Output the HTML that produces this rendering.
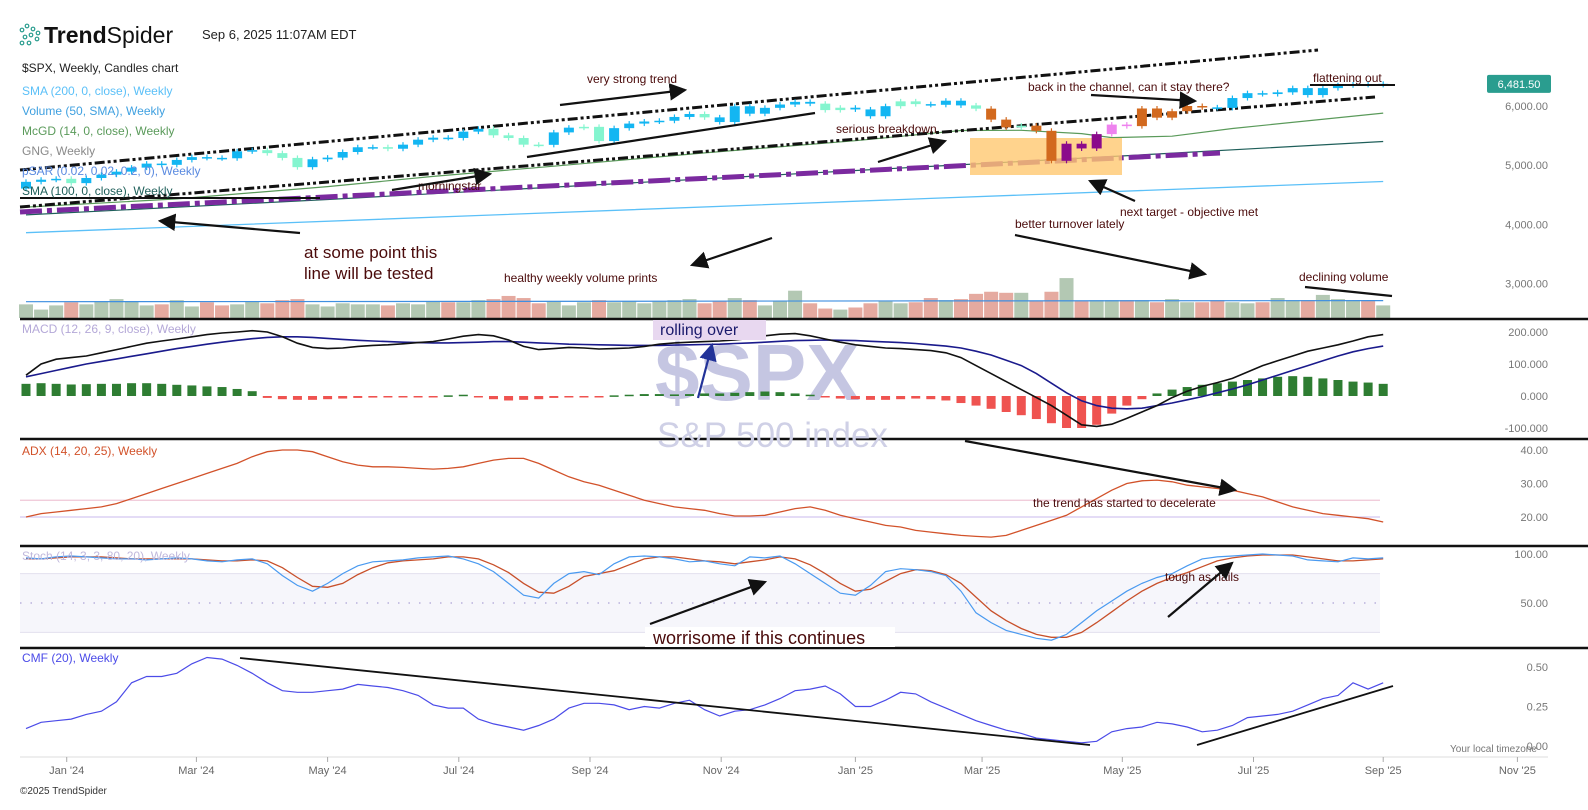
<!DOCTYPE html>
<html><head><meta charset="utf-8"><style>
html,body{margin:0;padding:0;background:#fff;}
body{width:1588px;height:810px;overflow:hidden;position:relative;font-family:"Liberation Sans",sans-serif;}
svg{position:absolute;left:0;top:0;}
</style></head><body>
<svg id="chart" width="1588" height="810" viewBox="0 0 1588 810" xmlns="http://www.w3.org/2000/svg" font-family="Liberation Sans, sans-serif"></svg>
<script>
// ---------- DATA ----------
const closes=[4719,4755,4770,4697,4784,4840,4891,4959,5027,5006,5089,5137,5124,5117,5234,5254,5204,5123,4967,5100,5128,5223,5303,5305,5278,5347,5431,5465,5460,5567,5615,5505,5459,5347,5344,5554,5634,5648,5408,5626,5703,5738,5751,5815,5865,5808,5729,5996,5870,5969,6032,6090,6051,5931,5971,5942,5827,5997,6101,6041,6026,6115,6013,5955,5770,5639,5668,5581,5074,5363,5283,5525,5686,5660,5958,5803,5912,6000,5977,5968,6173,6279,6260,6297,6389,6238,6389,6450,6467,6460,6482];
const firstOpen=4605;
const regime="bbbmbbbbbbbbbbbbmmmbbbbbmbbbbbbmmmmbbmmbbbbbbmbbbbbbbmmbbbmmbbbmoomoopppvvooooobbbbbbbbbbbbb";
const volumes=[13,8,12,15,13,16,18,16,12,13,17,11,15,12,13,16,14,17,18,13,11,14,13,13,12,14,13,16,15,15,17,18,21,19,14,16,12,15,17,15,16,14,16,17,18,14,16,19,17,12,16,26,14,9,8,10,14,16,14,15,19,17,18,23,25,24,24,16,25,38,16,17,17,17,17,15,18,15,15,17,15,14,15,19,17,17,22,18,17,17,12];
const volSmaIdx=[0,30,60,90];
const volSmaVals=[15.5,15.8,16.3,16.6];
const sma200Idx=[0,30,60,90];
const sma200Vals=[3860,4150,4440,4725];
const sma100Idx=[0,20,40,60,75,90];
const sma100Vals=[4160,4420,4700,4980,5190,5400];
const mcgdIdx=[0,10,20,27,35,45,55,62,66,70,72,76,80,90];
const mcgdVals=[4293,4430,4638,4810,4983,5207,5414,5586,5590,5534,5466,5490,5620,5880];
const macd=[65,100,115,120,125,135,145,155,165,172,178,185,192,197,200,204,200,185,165,152,148,150,155,158,160,163,167,170,178,187,192,188,175,155,145,148,152,150,147,148,150,155,162,166,168,170,172,175,180,188,193,195,188,178,168,160,155,150,148,145,142,135,120,95,70,45,20,-5,-30,-60,-90,-95,-88,-70,-50,-30,-5,15,30,42,55,75,95,110,125,140,150,160,172,185,192];
const signal=[60,70,80,90,100,108,116,124,132,140,148,155,162,168,174,179,183,185,185,183,180,177,174,172,170,168,167,166,166,167,168,170,170,168,166,164,162,161,160,159,158,158,158,159,160,161,162,164,166,168,171,173,174,175,174,173,171,169,167,164,160,156,150,140,128,112,95,70,40,10,-15,-30,-38,-40,-38,-30,-22,-12,-2,10,22,35,50,65,80,95,110,125,138,148,156];
const hist=[38,40,38,36,37,38,38,40,40,38,35,33,30,28,22,15,-6,-10,-12,-12,-10,-8,-6,-5,-4,-4,-3,-2,2,4,-4,-10,-14,-12,-10,-6,-4,-2,-2,2,4,6,6,5,6,8,8,10,12,14,12,8,4,-4,-8,-10,-12,-12,-10,-8,-10,-14,-22,-30,-40,-50,-60,-72,-85,-100,-100,-90,-55,-30,-10,8,20,28,35,40,45,50,55,60,62,60,55,50,45,42,38];
const adx=[20,21,21.5,22,22.5,23,24,25.5,27,28.5,30,31.5,33,34.5,36,38,39.5,40,40,39.5,38,36.5,35.5,35,35,34.8,34.5,34.3,34.5,35,36,37,37.5,37.5,36,34,32,30.5,29.5,28,26.5,25,24,23,22.5,22,21,20.3,20.3,20.5,21.5,22.5,23,22,20.5,19.5,18.5,17.5,17,16,15.5,15,14.5,14.2,14,14.5,16,17.5,19,20.5,23,25.5,28,30,30.8,31,30.5,29.5,29,28.5,28,27,26,24.5,23,22,21,20.5,20,19.5,18.5];
const stochK=[96,95,97,98,97,96,95,95,94,95,96,95,93,92,94,95,90,78,68,62,70,80,88,92,93,94,96,97,98,95,90,82,70,58,55,70,80,82,79,90,97,98,97,95,92,93,90,88,97,96,98,90,80,70,60,58,68,82,85,84,82,78,62,40,30,22,18,14,12,18,30,42,52,62,70,76,80,88,95,97,98,99,100,99,98,94,93,92,96,95,96];
const stochD=[95,95,96,97,97,97,96,95,95,95,95,95,94,93,93,94,93,86,76,67,66,70,79,86,91,93,94,95,97,97,95,89,81,70,61,60,67,77,80,83,89,95,97,97,95,93,92,90,92,94,97,95,89,80,70,62,64,72,80,84,83,79,70,56,42,32,24,18,15,15,20,30,41,52,62,70,76,81,87,93,96,98,99,99,99,97,95,93,93,94,95];
const cmf=[0.11,0.15,0.16,0.17,0.20,0.22,0.28,0.40,0.44,0.44,0.46,0.52,0.56,0.55,0.51,0.46,0.40,0.35,0.34,0.34,0.35,0.36,0.39,0.38,0.37,0.35,0.32,0.26,0.24,0.24,0.17,0.14,0.12,0.10,0.13,0.17,0.24,0.27,0.27,0.26,0.23,0.25,0.24,0.27,0.29,0.23,0.19,0.22,0.23,0.26,0.30,0.35,0.36,0.38,0.33,0.25,0.25,0.29,0.34,0.33,0.28,0.24,0.20,0.16,0.13,0.10,0.08,0.05,0.04,0.03,0.02,0.03,0.09,0.11,0.12,0.15,0.14,0.12,0.09,0.10,0.13,0.18,0.19,0.20,0.22,0.26,0.30,0.32,0.40,0.36,0.40];
const xLabels=["Jan '24","Mar '24","May '24","Jul '24","Sep '24","Nov '24","Jan '25","Mar '25","May '25","Jul '25","Sep '25","Nov '25"];
const xLabelWeeks=[2.7,11.3,20,28.7,37.4,46.1,55,63.4,72.7,81.4,90,98.9];
const priceTicks=[6000,5000,4000,3000];
const macdTicks=[200,100,0,-100];
const adxTicks=[40,30,20];
const stochTicks=[100,50];
const cmfTicks=[0.5,0.25,0];
const lastPrice=6481.50;

// ---------- AXES ----------
const X=i=>26+i*15.08;
const yP=p=>p>=6000?106-(p-6000)*0.046:106+(6000-p)*0.0592;
const yV=v=>318-v*1.05;
const yM=v=>396-v*0.32;
const yA=v=>517-(v-20)*3.35;
const yS=v=>652-v*0.98;
const yC=v=>746-v*158;

const svg=document.getElementById('chart');
const NS='http://www.w3.org/2000/svg';
function mk(tag,attrs,parent){const e=document.createElementNS(NS,tag);for(const k in attrs)e.setAttribute(k,attrs[k]);(parent||svg).appendChild(e);return e;}
function txt(s,x,y,attrs){const e=mk('text',Object.assign({x:x,y:y},attrs));e.textContent=s;return e;}
function poly(pts){return pts.map(p=>p[0].toFixed(1)+','+p[1].toFixed(1)).join(' ');}
let el;

// ---------- header ----------
const g0=mk('g',{});


[[22,30],[27,26],[33,29],[25,37],[31,35],[37,39],[22,43],[29,43],[38,33]].forEach(p=>{mk('circle',{cx:p[0],cy:p[1],r:1.8,fill:'none',stroke:'#2a9d8f','stroke-width':1.2},g0);});
el=txt('',44,43,{'font-size':23,fill:'#111'});
el.innerHTML='<tspan font-weight="bold">Trend</tspan><tspan>Spider</tspan>';


el=txt('Sep 6, 2025 11:07AM EDT',202,39,{'font-size':13,fill:'#222'});


el=txt('$SPX, Weekly, Candles chart',22,72,{'font-size':12,fill:'#222'});



// ---------- price panel lines ----------
el=mk('polyline',{points:poly(sma200Idx.map((v,k)=>[X(v),yP(sma200Vals[k])])),fill:'none',stroke:'#5bc0f8','stroke-width':1.3});


el=mk('polyline',{points:poly(sma100Idx.map((v,k)=>[X(v),yP(sma100Vals[k])])),fill:'none',stroke:'#1f5f5a','stroke-width':1.2});


el=mk('polyline',{points:poly(mcgdIdx.map((v,k)=>[X(v),yP(mcgdVals[k])])),fill:'none',stroke:'#5a9a5a','stroke-width':1.2});



el=mk('line',{x1:20,y1:212,x2:1220,y2:153,stroke:'#7b2a9f','stroke-width':5,'stroke-dasharray':'22,5,5,5'});


el=mk('line',{x1:20,y1:170,x2:1318,y2:50,stroke:'#111','stroke-width':3,'stroke-dasharray':'10,3,3,3,3,3'});


el=mk('line',{x1:20,y1:207,x2:1375,y2:97,stroke:'#111','stroke-width':3,'stroke-dasharray':'10,3,3,3,3,3'});


el=mk('line',{x1:20,y1:198,x2:320,y2:198,stroke:'#111','stroke-width':2});


el=mk('rect',{x:970,y:138,width:152,height:37,fill:'#ffc870',opacity:0.8});



// ---------- candles ----------
const colMap={b:'#13b6f2',m:'#84f5cf',o:'#d2691e',p:'#8b0a8b',v:'#ee82ee'};
for(let i=0;i<closes.length;i++){
  const o=i===0?firstOpen:closes[i-1], c=closes[i];
  const col=colMap[regime[i]]||'#13b6f2';
  const top=yP(Math.max(o,c)), bot=yP(Math.min(o,c));
  el=mk('line',{x1:X(i),x2:X(i),y1:top-2.5,y2:bot+2.5,stroke:col,'stroke-width':1.2});
  
  
  el=mk('rect',{x:X(i)-5,y:top,width:10,height:Math.max(1.5,bot-top),fill:col});
  
  
}

[['SMA (200, 0, close), Weekly','#5bc0f8',95],['Volume (50, SMA), Weekly','#3fa0e0',115],['McGD (14, 0, close), Weekly','#5a9a5a',135],['GNG, Weekly','#8a8a8a',155],['pSAR (0.02, 0.02, 0.2, 0), Weekly','#5a8ae0',175],['SMA (100, 0, close), Weekly','#1f5f5a',195]].forEach(a=>{
  const t=txt(a[0],22,a[2],{'font-size':12,fill:a[1]});
  
  
});

// ---------- volume ----------
for(let i=0;i<volumes.length;i++){
  const o=i===0?firstOpen:closes[i-1];
  el=mk('rect',{x:X(i)-7,y:yV(volumes[i]),width:14,height:318-yV(volumes[i]),fill:closes[i]<o?'#e5aaa0':'#b3c8b3'});
  
  
}
el=mk('polyline',{points:poly(volSmaIdx.map((v,k)=>[X(v),yV(volSmaVals[k])])),fill:'none',stroke:'#3f8fe0','stroke-width':1.2});



[319,439,546,648].forEach(y=>{
  const d=mk('line',{x1:20,x2:1588,y1:y,y2:y,stroke:'#111','stroke-width':2.5});
  
  
});

// ---------- MACD ----------
el=txt('$SPX',655,400,{'font-size':80,'font-weight':'bold',fill:'#c5c6e2'});


el=txt('S&P 500 index',657,447,{'font-size':35,fill:'#cfd0e6'});


for(let i=0;i<hist.length;i++){
  const y=yM(hist[i]);
  el=mk('rect',{x:X(i)-4.5,y:Math.min(y,396),width:9,height:Math.max(1.5,Math.abs(y-396)),fill:hist[i]>=0?'#2e7d32':'#ef5350'});
  
  
}
el=mk('polyline',{points:poly(signal.map((v,i)=>[X(i),yM(v)])),fill:'none',stroke:'#1a1a8c','stroke-width':1.6});


el=mk('polyline',{points:poly(macd.map((v,i)=>[X(i),yM(v)])),fill:'none',stroke:'#111','stroke-width':1.6});


el=txt('MACD (12, 26, 9, close), Weekly',22,333,{'font-size':12,fill:'#b4a8d8'});



// ---------- ADX ----------
el=mk('line',{x1:20,x2:1380,y1:yA(25),y2:yA(25),stroke:'#efc6d6','stroke-width':1.2});


el=mk('line',{x1:20,x2:1380,y1:yA(20),y2:yA(20),stroke:'#d4c8f0','stroke-width':1.2});


el=mk('polyline',{points:poly(adx.map((v,i)=>[X(i),yA(v)])),fill:'none',stroke:'#d2522a','stroke-width':1.3});


el=txt('ADX (14, 20, 25), Weekly',22,455,{'font-size':12,fill:'#d2522a'});



// ---------- Stoch ----------
el=mk('rect',{x:20,y:yS(80),width:1360,height:yS(20)-yS(80),fill:'#f6f6fb'});


el=mk('line',{x1:20,x2:1380,y1:yS(80),y2:yS(80),stroke:'#e2e0ee','stroke-width':1});


el=mk('line',{x1:20,x2:1380,y1:yS(20),y2:yS(20),stroke:'#e2e0ee','stroke-width':1});


el=mk('line',{x1:20,x2:1380,y1:yS(50),y2:yS(50),stroke:'#b8b0dc','stroke-width':1.5,'stroke-dasharray':'1.5,9'});


el=mk('polyline',{points:poly(stochD.map((v,i)=>[X(i),yS(v)])),fill:'none',stroke:'#c8502a','stroke-width':1.3});


el=mk('polyline',{points:poly(stochK.map((v,i)=>[X(i),yS(v)])),fill:'none',stroke:'#4a9af0','stroke-width':1.2});


el=txt('Stoch (14, 3, 3, 80, 20), Weekly',22,560,{'font-size':12,fill:'#c0b8dc'});



// ---------- CMF ----------
el=mk('polyline',{points:poly(cmf.map((v,i)=>[X(i),yC(v)])),fill:'none',stroke:'#4b4be8','stroke-width':1.2});


el=txt('CMF (20), Weekly',22,662,{'font-size':12,fill:'#4b4be8'});


el=mk('line',{x1:240,y1:658,x2:1090,y2:745,stroke:'#111','stroke-width':1.8});


el=mk('line',{x1:1197,y1:745,x2:1393,y2:686,stroke:'#111','stroke-width':1.8});



// ---------- right axis ----------
function rlab(s,y,name){const t=txt(s,1548,y+4,{'font-size':11,fill:'#777','text-anchor':'end'});}
priceTicks.forEach(p=>rlab(p.toLocaleString('en-US',{minimumFractionDigits:2}),yP(p),'price-tick-label'));
macdTicks.forEach(v=>rlab(v.toFixed(3),yM(v),'macd-tick-label'));
adxTicks.forEach(v=>rlab(v.toFixed(2),yA(v),'adx-tick-label'));
stochTicks.forEach(v=>rlab(v.toFixed(2),yS(v),'stoch-tick-label'));
cmfTicks.forEach(v=>rlab(v.toFixed(2),yC(v),'cmf-tick-label'));
el=mk('rect',{x:1487,y:yP(lastPrice)-9,width:64,height:18,rx:2,fill:'#2a9d8f'});


el=txt(lastPrice.toLocaleString('en-US',{minimumFractionDigits:2}),1519,yP(lastPrice)+4,{'font-size':11,fill:'#fff','text-anchor':'middle'});


el=txt('Your local timezone',1450,752,{'font-size':10,fill:'#777'});



// ---------- x axis ----------
el=mk('line',{x1:20,x2:1548,y1:757,y2:757,stroke:'#ddd','stroke-width':1});


xLabels.forEach((s,k)=>{
  const tk=mk('line',{x1:X(xLabelWeeks[k]),x2:X(xLabelWeeks[k]),y1:757,y2:762,stroke:'#aaa'});
  
  
  const t=txt(s,X(xLabelWeeks[k]),774,{'font-size':11,fill:'#666','text-anchor':'middle'});
  
  
});
el=txt('©2025 TrendSpider',20,794,{'font-size':10,fill:'#333'});



// ---------- annotations ----------
const defs=mk('defs',{});
['#111','#223399'].forEach((c,k)=>{const m=mk('marker',{id:'ah'+k,markerWidth:8,markerHeight:8,refX:7,refY:4,orient:'auto',markerUnits:'strokeWidth'},defs);mk('path',{d:'M0,0 L8,4 L0,8 Z',fill:c},m);});
function arrow(x1,y1,x2,y2,name,col,head){
  const a=mk('line',{x1:x1,y1:y1,x2:x2,y2:y2,stroke:col||'#111','stroke-width':2.2});
  if(head!==false)a.setAttribute('marker-end','url(#ah'+(col?1:0)+')');
  
  
}
function note(s,x,y,size,name){const t=txt(s,x,y,{'font-size':size||12,fill:'#4a0a0a'});return t;}
note('very strong trend',587,83,12,'note-very-strong-trend');
arrow(560,105,685,90,'arrow-very-strong-trend');
note('morningstar',418,190,12,'note-morningstar');
arrow(392,190,490,174,'arrow-morningstar');
arrow(527,157,815,113,'line-trend-segment',null,false);
note('at some point this',304,258,17,'note-line-tested-1');
note('line will be tested',304,279,17,'note-line-tested-2');
arrow(300,233,160,221,'arrow-line-tested');
note('healthy weekly volume prints',504,282,12,'note-healthy-volume');
arrow(772,238,692,265,'arrow-healthy-volume');
note('serious breakdown',836,133,12,'note-serious-breakdown');
arrow(878,162,945,141,'arrow-serious-breakdown');
note('back in the channel, can it stay there?',1028,91,12,'note-back-in-channel');
arrow(1091,95,1195,101,'arrow-back-in-channel');
note('flattening out',1313,82,12,'note-flattening-out');
el=mk('line',{x1:1310,y1:85,x2:1395,y2:85,stroke:'#111','stroke-width':2});


note('next target - objective met',1120,216,12,'note-next-target');
arrow(1135,201,1090,181,'arrow-next-target');
note('better turnover lately',1015,228,12,'note-better-turnover');
arrow(1015,235,1205,274,'arrow-better-turnover');
note('declining volume',1299,281,12,'note-declining-volume');
arrow(1305,287,1392,296,'line-declining-volume',null,false);
el=mk('rect',{x:653,y:320,width:113,height:20,fill:'#e8d8f0'});


el=txt('rolling over',660,335,{'font-size':16,fill:'#1a1a6c'});


arrow(698,398,712,345,'arrow-rolling-over','#223399');
arrow(965,441,1235,490,'arrow-trend-decelerate');
note('the trend has started to decelerate',1033,507,12,'note-trend-decelerate');
arrow(650,624,765,582,'arrow-worrisome');
el=mk('rect',{x:645,y:627,width:250,height:20,fill:'#fff'});


note('worrisome if this continues',653,644,18,'note-worrisome');
note('tough as nails',1165,581,12,'note-tough-as-nails');
arrow(1168,617,1232,563,'arrow-tough-as-nails');
</script>
</body></html>
